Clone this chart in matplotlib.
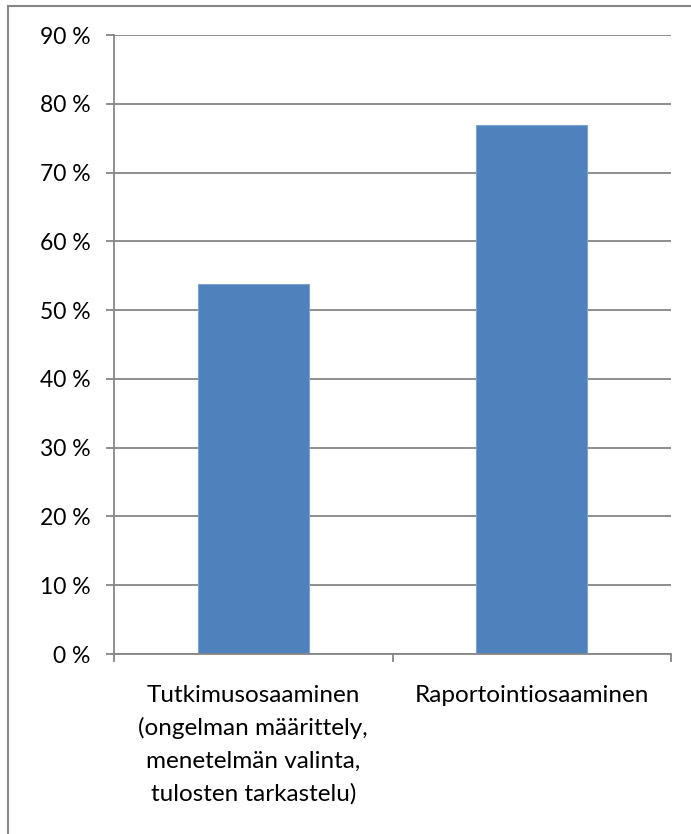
import matplotlib.pyplot as plt
import numpy as np

# data
categories = ["Tutkimusosaaminen\n(ongelman määrittely,\nmenetelmän valinta,\ntulosten tarkastelu)",
              "Raportointiosaaminen"]
values = [53.8, 76.9]
yticks = [0, 10, 20, 30, 40, 50, 60, 70, 80, 90]
ylabels = [str(t) + " %" for t in yticks]

plt.rcParams['font.family'] = ['Lato', 'DejaVu Sans']

fig = plt.figure(figsize=(6.91, 8.34), dpi=100)
ax = fig.add_axes([0.165, 0.2158, 0.8061, 0.7422])

x = np.arange(len(categories))
ax.bar(x, values, width=0.4, color='#4F81BD', edgecolor='#7FA3D0', linewidth=0.8, zorder=3)

ax.set_xlim(-0.5, 1.5)
ax.set_ylim(0, 90)
ax.set_yticks(yticks)
ax.set_yticklabels(ylabels, fontsize=16.5)
ax.grid(axis='y', color='#868686', linewidth=1.3, zorder=0)

# category boundary ticks, labels at centres
ax.set_xticks([-0.5, 0.5, 1.5])
ax.set_xticklabels([])
ax.set_xticks(x, minor=True)
ax.set_xticklabels(categories, minor=True, fontsize=17.5, linespacing=1.65, va='top')
ax.tick_params(axis='x', which='minor', length=0, pad=22)
ax.tick_params(axis='x', which='major', length=6, color='#868686', width=1.3)
ax.tick_params(axis='y', length=6, color='#868686', width=1.3, pad=11)

for s in ['top', 'right']:
    ax.spines[s].set_visible(False)
for s in ['left', 'bottom']:
    ax.spines[s].set_color('#868686')
    ax.spines[s].set_linewidth(1.3)
    ax.spines[s].set_zorder(4)

# chart border (only top and left edges visible, rest cropped)
fig.add_artist(plt.Line2D([8 / 691, 1], [1 - 6 / 834, 1 - 6 / 834], transform=fig.transFigure,
                          color='#868686', linewidth=1.5))
fig.add_artist(plt.Line2D([8 / 691, 8 / 691], [0, 1 - 6 / 834], transform=fig.transFigure,
                          color='#868686', linewidth=1.5))

fig.savefig("out.png", dpi=100)
